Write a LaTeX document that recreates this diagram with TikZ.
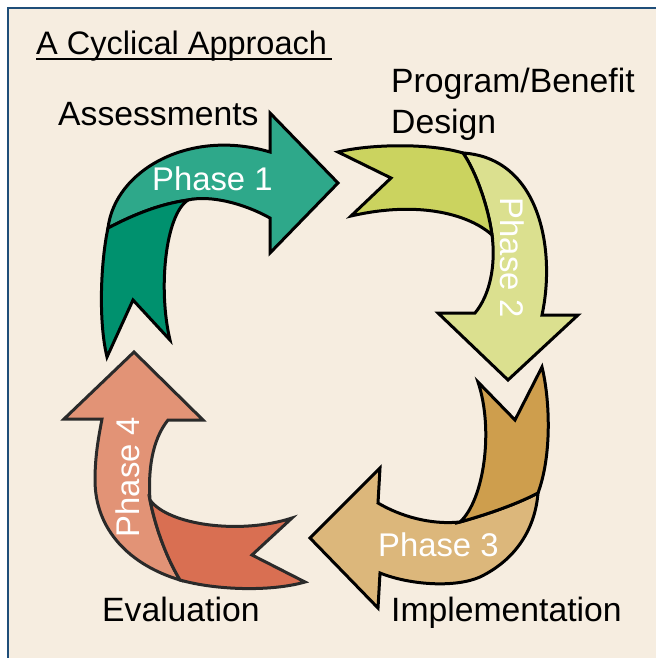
\documentclass[tikz,border=0pt]{standalone}
\usepackage{fontspec}
\setmainfont{Liberation Sans}
\definecolor{paper}{HTML}{F6EDE0}
\definecolor{frameblue}{HTML}{1F4E79}
\definecolor{greenDark}{HTML}{00916E}
\definecolor{greenLight}{HTML}{2EA88A}
\definecolor{limeDark}{HTML}{CBD35F}
\definecolor{limeLight}{HTML}{DBE08F}
\definecolor{tanDark}{HTML}{CE9E4D}
\definecolor{tanLight}{HTML}{DCB77B}
\definecolor{coralDark}{HTML}{D96F52}
\definecolor{coralLight}{HTML}{E29376}
\definecolor{coralLine}{HTML}{2A2A2A}

\begin{document}
\begin{tikzpicture}[x=1pt,y=-1pt,
  band/.style={draw=black,line width=3pt,line join=miter},
  steptext/.style={anchor=base west,text=black,font=\fontsize{33.7}{40}\selectfont},
  phasetext/.style={text=white,font=\fontsize{32.8}{38}\selectfont}]
\tikzstyle{every node}+=[inner sep=0pt]
\useasboundingbox (0,0) rectangle (656,658);
\fill [white] (0,0) rectangle (656,658);
\fill [paper] (7.5,8.5) rectangle (656,658);
\draw [frameblue,line width=2pt] (7.5,658) -- (7.5,8.5) -- (656,8.5);
% phase 1
\draw [band,fill=greenLight] (108,228) .. controls (115,170) and (190,128) .. (270,152) -- (270,113) -- (338,183) -- (270,253) -- (270,218) .. controls (243,203) and (210,195) .. (188,200) .. controls (160,204) and (135,214) .. (108,228) -- cycle;
\draw [band,fill=greenDark] (107,357) .. controls (98,320) and (101,260) .. (108,228) .. controls (135,214) and (160,204) .. (188,200) .. controls (165,215) and (158,290) .. (170,340) -- (133,300) -- cycle;
% phase 2
\draw [band,fill=limeLight] (463,153) .. controls (540,158) and (556,250) .. (542,315) -- (578,315) -- (508,380) -- (438,313) -- (475,313) .. controls (490,295) and (496,265) .. (492,235) .. controls (488,205) and (475,170) .. (463,153) -- cycle;
\draw [band,fill=limeDark] (338,152) .. controls (370,144) and (430,143) .. (463,153) .. controls (475,170) and (488,205) .. (492,235) .. controls (470,215) and (420,200) .. (351,216) -- (391,178) -- cycle;
% phase 3
\draw [band,fill=tanLight] (538,493) .. controls (535,530) and (515,560) .. (480,577) .. controls (455,588) and (410,585) .. (380,573) -- (378,608) -- (310,538) -- (380,468) -- (378,503) .. controls (400,516) and (430,525) .. (460,522) .. controls (485,515) and (515,505) .. (538,493) -- cycle;
\draw [band,fill=tanDark] (542,367) .. controls (550,400) and (552,455) .. (538,493) .. controls (515,505) and (485,515) .. (460,522) .. controls (484,500) and (494,430) .. (478,382) -- (515,420) -- cycle;
% phase 4
\draw [band,draw=coralLine,fill=coralLight] (180,580) .. controls (130,565) and (95,530) .. (95,480) .. controls (95,455) and (99,435) .. (102,419) -- (64,419) -- (134,352) -- (203,420) -- (168,420) .. controls (152,440) and (148,470) .. (150,500) .. controls (155,525) and (165,555) .. (180,580) -- cycle;
\draw [band,draw=coralLine,fill=coralDark] (305,582) .. controls (270,592) and (215,590) .. (180,580) .. controls (165,555) and (155,525) .. (150,500) .. controls (168,525) and (240,535) .. (292,518) -- (252,555) -- cycle;
% texts
\node (title) [steptext,font=\fontsize{32.5}{38}\selectfont] at (36,55) {A Cyclical Approach};
\coordinate (titleend) at (332,59);
\draw [black,line width=2pt] ([yshift=-4pt]title.base west) -- (titleend);
\node (assess) [steptext] at (58,125) {Assessments};
\node (program) [steptext] at (391,93) {Program/Benefit};
\node (design) [steptext] at (391,133) {Design};
\node (implement) [steptext] at (391,621) {Implementation};
\node (evaluate) [steptext] at (102,621) {Evaluation};
\node (one) [phasetext,anchor=base west] at (152,190) {Phase 1};
\node (two) [phasetext,rotate=-90] at (512,258) {Phase 2};
\node (three) [phasetext,anchor=base west] at (378,556) {Phase 3};
\node (four) [phasetext,rotate=90] at (128,477) {Phase 4};
\end{tikzpicture}
\end{document}
